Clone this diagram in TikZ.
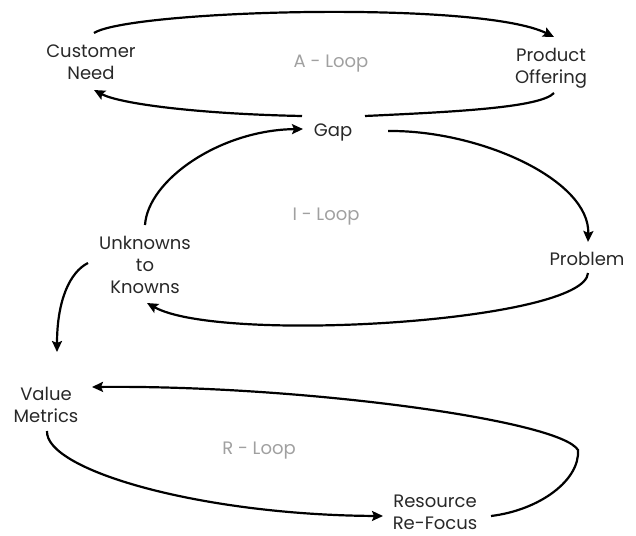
\documentclass[tikz,border=0pt]{standalone}
\usepackage{fontspec}
\setmainfont{Poppins}
\usepackage{xcolor}
\definecolor{textcolor}{RGB}{40,40,40}
\definecolor{loopcolor}{RGB}{160,160,160}
\definecolor{edgecolor}{RGB}{0,0,0}
\usepackage{tikz}
\usetikzlibrary{arrows.meta,calc,positioning}
\tikzstyle{step node}=[align=center,inner sep=0pt,text=textcolor,font=\fontsize{18}{22}\selectfont]
\tikzstyle{loop label}=[inner sep=0pt,text=loopcolor,font=\fontsize{18}{22}\selectfont]
\tikzstyle{loopedge}=[line width=2.2pt,edgecolor]
\tikzstyle{looparrow}=[loopedge,-{Stealth[length=11pt,width=10pt,inset=2pt]}]

\begin{document}
\begin{tikzpicture}[x=1pt,y=-1pt]
\useasboundingbox (0,0) rectangle (636,535);
    % the steps of the three loops
    \foreach \name/\x/\y/\txt in {cust/91/62/{Customer\\Need},prod/551/68/{Product\\Offering},
        gap/333/132/{Gap},unk/145/265/{Unknowns\\to\\Knowns},prob/587/259/{Problem},
        val/46/405/{Value\\Metrics},res/435/512/{Resource\\Re-Focus}}
        \node[step node] (\name) at (\x,\y) {\txt};

    \foreach \name/\x/\y/\txt in {aloop/331/64/{A - Loop},iloop/326/217/{I - Loop},rloop/259/451/{R - Loop}}
        \node[loop label] (\name) at (\x,\y) {\txt};

    % A - Loop
    \draw[looparrow] ($(cust)+(3,-29)$) .. controls (130,10) and (480,0) .. ($(prod)+(3,-31)$);
    \draw[loopedge] ($(prod)+(3,25)$) .. controls (540,108) and (450,112) .. ($(gap)+(32,-16)$);
    \draw[looparrow] ($(gap)+(-31,-16)$) .. controls (200,114) and (120,104) .. ($(cust)+(3,28)$);

    % I - Loop
    \draw[looparrow] ($(unk)+(0,-40)$) .. controls (148,180) and (220,130) .. ($(gap)+(-30,-3)$);
    \draw[looparrow] ($(gap)+(55,-1)$) .. controls (480,130) and (590,180) .. ($(prob)+(1,-17)$);
    \draw[looparrow] ($(prob)+(1,14)$) .. controls (585,322) and (220,344) .. ($(unk)+(2,38)$);

    \draw[looparrow] ($(unk)+(-57,-2)$) .. controls (70,272) and (57,300) .. ($(val)+(11,-53)$);

    % R - Loop
    \draw[looparrow] ($(val)+(1,26)$) .. controls (45,470) and (200,515) .. ($(res)+(-52,4)$);
    \draw[looparrow] ($(res)+(56,4)$) .. controls (540,510) and (580,480) .. (578,450)
        .. controls (560,420) and (300,385) .. ($(val)+(46,-18)$);

\end{tikzpicture}
\end{document}
